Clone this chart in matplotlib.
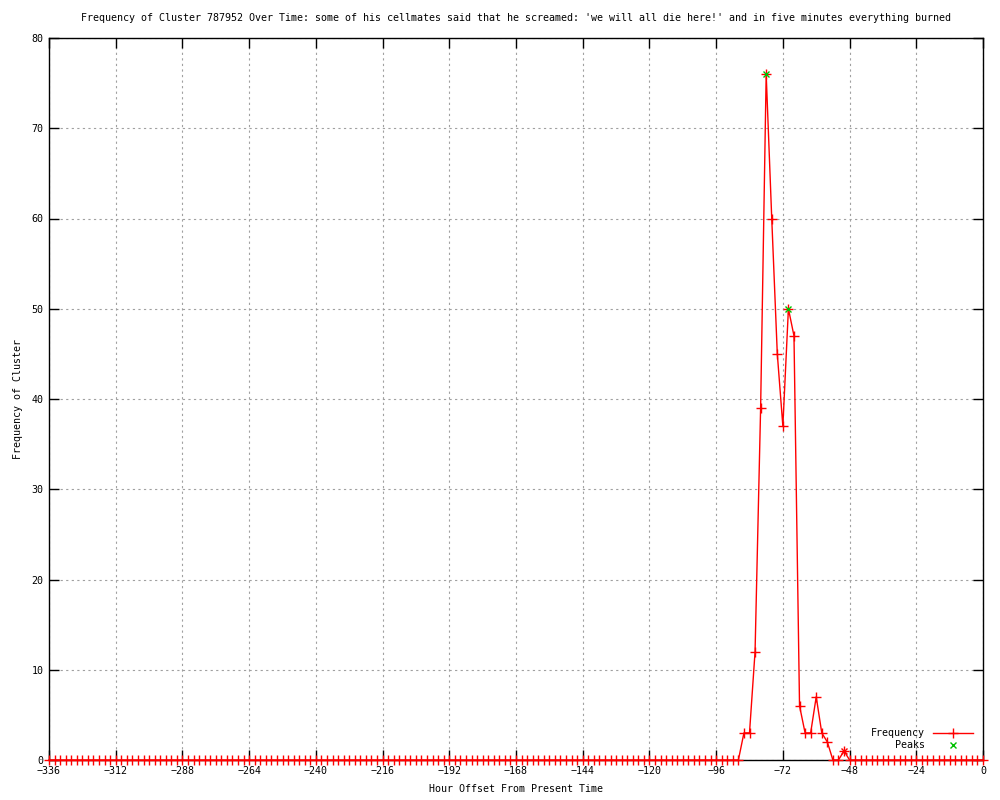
import numpy as np
import matplotlib
matplotlib.use("Agg")
import matplotlib.pyplot as plt

# hours before present, one sample every 2 hours
hours = list(range(-336, 1, 2))
# counts: flat zero, a burst around -80..-50, then zero again
counts = [0] * 125 + [3, 3, 12, 39, 76, 60, 45, 37, 50, 47, 6, 3, 3, 7, 3, 2, 0, 0, 1] + [0] * 25

peak_hours = [-78, -70]
peak_counts = [76, 50]
small_peak_hour = [-50]
small_peak_count = [1]

title = ("Frequency of Cluster 787952 Over Time: some of his cellmates said that he "
         "screamed: 'we will all die here!' and in five minutes everything burned")

plt.rcParams['font.family'] = ['DejaVu Sans Mono']
plt.rcParams['font.size'] = 7.2

fig = plt.figure(figsize=(10, 8), dpi=100)
ax = fig.add_axes([0.049, 0.05, 0.934, 0.9025])

ax.plot(hours, counts, color='red', lw=1, marker='+', ms=7, mew=1, label='Frequency', clip_on=False, zorder=3)
ax.plot(small_peak_hour, small_peak_count, color='red', ls='none', marker='x', ms=5, mew=1, zorder=4)
ax.plot(peak_hours, peak_counts, color='#00c000', ls='none', marker='x', ms=5, mew=1, label='Peaks', zorder=4)

ax.set_xlim(-336, 0)
ax.set_ylim(0, 80)
ax.set_xticks(range(-336, 1, 24))
ax.set_yticks(range(0, 81, 10))
ax.tick_params(direction='in', length=7, width=1, top=True, right=True, labelsize=7.2, pad=4)
ax.grid(True, color='#a0a0a0', ls=(0, (2, 3)), lw=0.8)
for s in ax.spines.values():
    s.set_linewidth(1)

ax.set_title(title, fontsize=7.2, pad=12)
ax.set_xlabel("Hour Offset From Present Time", fontsize=7.2, labelpad=6)
ax.set_ylabel("Frequency of Cluster", fontsize=7.2, labelpad=6)

leg = ax.legend(loc='lower right', frameon=False, markerfirst=False, fontsize=7.2,
                handlelength=4, borderaxespad=0.6, labelspacing=0.2)
for t in leg.get_texts():
    t.set_ha('right')

fig.savefig("out.png", dpi=100)
